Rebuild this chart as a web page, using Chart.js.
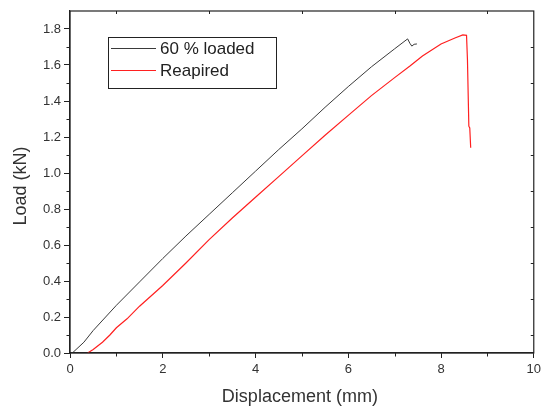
<!DOCTYPE html>
<html>
<head>
<meta charset="utf-8">
<script src="https://cdn.jsdelivr.net/npm/chart.js@4"></script>
<style>
html,body{margin:0;padding:0;background:#fff;}
#wrap{width:545px;height:410px;}
</style>
</head>
<body>
<div id="wrap"><canvas id="c" width="545" height="410"></canvas></div>
<script>
// ---- data ----
const seriesNames = ["60 % loaded", "Reapired"];
const loadedX = [0.05,0.3,0.5,1.0,1.5,2.0,2.5,3.0,3.5,4.0,4.5,5.0,5.5,6.0,6.5,7.0,7.28,7.33,7.37,7.42,7.48];
const loadedY = [0,0.06,0.125,0.265,0.395,0.525,0.65,0.77,0.89,1.01,1.13,1.245,1.365,1.48,1.59,1.69,1.745,1.72,1.705,1.715,1.717];
const repairedX = [0.38,0.5,0.7,0.86,1.0,1.23,1.5,2.0,2.5,3.0,3.5,4.0,4.5,5.0,5.5,6.0,6.5,7.0,7.33,7.6,8.0,8.3,8.47,8.55,8.57,8.6,8.62,8.64];
const repairedY = [0,0.02,0.06,0.10,0.14,0.19,0.26,0.375,0.5,0.63,0.75,0.865,0.98,1.095,1.21,1.32,1.43,1.53,1.594,1.65,1.717,1.75,1.767,1.765,1.63,1.26,1.25,1.14];
const xTicks = [0,2,4,6,8,10];
const yTicks = [0,0.2,0.4,0.6,0.8,1.0,1.2,1.4,1.6,1.8];
const xMinor = [1,3,5,7,9];
const yMinor = [0.1,0.3,0.5,0.7,0.9,1.1,1.3,1.5,1.7];
const xTitle = "Displacement (mm)";
const yTitle = "Load (kN)";
const lineColors = ["#3a3a3a", "#ff2020"];

const toPts = (xs, ys) => xs.map((x, i) => ({x: x, y: ys[i]}));

const FONT = "'Liberation Sans', Arial, sans-serif";

const framePlugin = {
  id: 'frame',
  afterDraw(chart) {
    const ctx = chart.ctx, a = chart.chartArea;
    const xs = chart.scales.x, ys = chart.scales.y;
    ctx.save();
    ctx.strokeStyle = '#222';
    ctx.lineWidth = 1.2;
    ctx.strokeRect(a.left, a.top, a.right - a.left, a.bottom - a.top);
    // minor ticks (outward on bottom/left) and inward ticks on top/right
    ctx.lineWidth = 1;
    ctx.beginPath();
    xMinor.forEach(v => {
      const px = Math.round(xs.getPixelForValue(v)) + 0.5;
      ctx.moveTo(px, a.bottom); ctx.lineTo(px, a.bottom + 3.5);
      ctx.moveTo(px, a.top); ctx.lineTo(px, a.top + 3);
    });
    yMinor.forEach(v => {
      const py = Math.round(ys.getPixelForValue(v)) + 0.5;
      ctx.moveTo(a.left, py); ctx.lineTo(a.left - 3.5, py);
      ctx.moveTo(a.right, py); ctx.lineTo(a.right - 3, py);
    });
    ctx.stroke();
    // axis titles
    ctx.fillStyle = '#333';
    ctx.font = '18px ' + FONT;
    ctx.textAlign = 'center';
    ctx.textBaseline = 'middle';
    ctx.fillText(xTitle, (a.left + a.right) / 2 - 2, 397);
    ctx.translate(21, (a.top + a.bottom) / 2 + 4);
    ctx.rotate(-Math.PI / 2);
    ctx.fillText(yTitle, 0, 0);
    ctx.restore();
    // legend
    ctx.save();
    const bx = 108.5, by = 37.5, bw = 168, bh = 51;
    ctx.strokeStyle = '#222';
    ctx.lineWidth = 1;
    ctx.strokeRect(bx, by, bw, bh);
    ctx.font = '17px ' + FONT;
    ctx.textAlign = 'left';
    ctx.textBaseline = 'middle';
    chart.data.datasets.forEach((ds, i) => {
      const yy = 48 + i * 22;
      ctx.strokeStyle = ds.borderColor;
      ctx.beginPath();
      ctx.moveTo(111, yy + 0.5); ctx.lineTo(156, yy + 0.5);
      ctx.stroke();
      ctx.fillStyle = '#222';
      ctx.fillText(ds.label, 160, yy + 1);
    });
    ctx.restore();
  }
};

new Chart(document.getElementById('c'), {
  type: 'scatter',
  data: {
    datasets: [
      {label: seriesNames[0], data: toPts(loadedX, loadedY), showLine: true, borderColor: lineColors[0], borderWidth: 1, pointRadius: 0, tension: 0},
      {label: seriesNames[1], data: toPts(repairedX, repairedY), showLine: true, borderColor: lineColors[1], borderWidth: 1.2, pointRadius: 0, tension: 0}
    ]
  },
  options: {
    responsive: false,
    animation: false,
    devicePixelRatio: 1,
    layout: {padding: {left: 0, right: 11, top: 11, bottom: 0}},
    plugins: {legend: {display: false}, tooltip: {enabled: false}},
    scales: {
      x: {
        type: 'linear', min: 0, max: 10,
        afterBuildTicks: s => { s.ticks = xTicks.map(v => ({value: v})); },
        afterFit: s => { s.height = 57; },
        grid: {drawOnChartArea: false, drawTicks: true, tickLength: 5, color: '#222', tickColor: '#222'},
        border: {display: true, color: '#222', width: 1.2},
        ticks: {color: '#333', font: {size: 13, family: FONT}, padding: 4, maxRotation: 0, callback: v => String(v)}
      },
      y: {
        type: 'linear', min: 0, max: 1.9,
        afterBuildTicks: s => { s.ticks = yTicks.map(v => ({value: v})); },
        afterFit: s => { s.width = 70; },
        grid: {drawOnChartArea: false, drawTicks: true, tickLength: 6, color: '#222', tickColor: '#222'},
        border: {display: true, color: '#222', width: 1.2},
        ticks: {color: '#333', font: {size: 13, family: FONT}, padding: 3, callback: v => Number(v).toFixed(1)}
      }
    }
  },
  plugins: [framePlugin]
});
</script>
</body>
</html>
